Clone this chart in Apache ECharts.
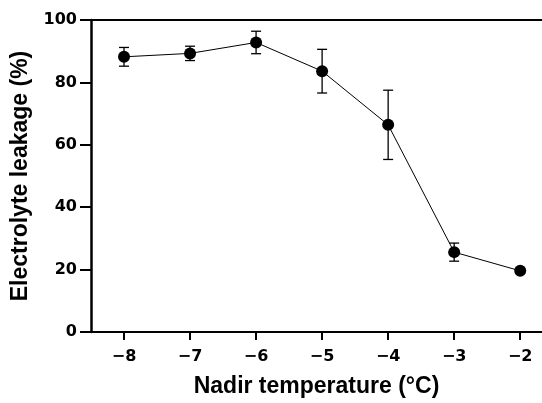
<!DOCTYPE html>
<html>
<head>
<meta charset="utf-8">
<script src="https://cdn.jsdelivr.net/npm/echarts@6/dist/echarts.min.js"></script>
<style>
html,body{margin:0;padding:0;background:#fff;}
#chart{width:542px;height:403px;}
</style>
</head>
<body>
<div id="chart"></div>
<script>
const temperatures = [-8, -7, -6, -5, -4, -3, -2];
const leakage = [88.2, 89.3, 92.8, 83.6, 66.4, 25.6, 19.6];
const leakageErr = [3.0, 2.3, 3.6, 7.0, 11.1, 2.9, 0.8];
const xTicks = [-8, -7, -6, -5, -4, -3, -2];
const yTicks = [0, 20, 40, 60, 80, 100];

const TITLE_FONT = '"Liberation Sans", Arial, sans-serif';
const TICK_FONT = '"DejaVu Sans", sans-serif';
const chart = echarts.init(document.getElementById('chart'), null, {renderer: 'canvas'});

const pts = temperatures.map((t, i) => [t, leakage[i]]);
const errData = temperatures.map((t, i) => [t, leakage[i] - leakageErr[i], leakage[i] + leakageErr[i]]);

const fmt = v => String(v).replace('-', '\u2212');

chart.setOption({
  animation: false,
  grid: {left: 91, right: 0, top: 20, bottom: 69},
  xAxis: [{
    type: 'value', min: -8.5, max: -1.67, position: 'bottom',
    name: 'Nadir temperature (\u00B0C)', nameLocation: 'middle', nameGap: 43,
    nameTextStyle: {fontFamily: TITLE_FONT, fontWeight: 'bold', fontSize: 23, color: '#000'},
    axisLine: {show: true, onZero: false, lineStyle: {color: '#000', width: 2}},
    axisTick: {show: true, length: 8, inside: false, customValues: xTicks, lineStyle: {color: '#000', width: 2}},
    axisLabel: {customValues: xTicks, formatter: fmt, fontFamily: TICK_FONT, fontWeight: 'bold', fontSize: 16, color: '#000', margin: 17},
    splitLine: {show: false}
  }, {
    type: 'value', min: -8.5, max: -1.67, position: 'top',
    axisLine: {show: true, onZero: false, lineStyle: {color: '#000', width: 2}},
    axisTick: {show: false}, axisLabel: {show: false}, splitLine: {show: false}
  }],
  yAxis: {
    type: 'value', min: 0, max: 100, interval: 20,
    name: 'Electrolyte leakage (%)', nameLocation: 'middle', nameGap: 59,
    nameTextStyle: {fontFamily: TITLE_FONT, fontWeight: 'bold', fontSize: 23, color: '#000'},
    axisLine: {show: true, lineStyle: {color: '#000', width: 2.5}},
    axisTick: {show: true, length: 11, customValues: yTicks, lineStyle: {color: '#000', width: 2}},
    axisLabel: {customValues: yTicks, fontFamily: TICK_FONT, fontWeight: 'bold', fontSize: 16, color: '#000', margin: 14},
    splitLine: {show: false}
  },
  series: [{
    type: 'line', data: pts, xAxisIndex: 0,
    symbol: 'circle', symbolSize: 12,
    lineStyle: {color: '#000', width: 1},
    itemStyle: {color: '#000'},
    z: 3
  }, {
    type: 'custom', xAxisIndex: 0, data: errData, z: 2,
    renderItem: function (params, api) {
      const x = api.value(0);
      const lo = api.coord([x, api.value(1)]);
      const hi = api.coord([x, api.value(2)]);
      const hw = 5;
      const style = {stroke: '#000', lineWidth: 1.3};
      return {type: 'group', children: [
        {type: 'line', shape: {x1: lo[0], y1: lo[1], x2: hi[0], y2: hi[1]}, style: style},
        {type: 'line', shape: {x1: lo[0]-hw, y1: lo[1], x2: lo[0]+hw, y2: lo[1]}, style: style},
        {type: 'line', shape: {x1: hi[0]-hw, y1: hi[1], x2: hi[0]+hw, y2: hi[1]}, style: style}
      ]};
    }
  }]
});
</script>
</body>
</html>
